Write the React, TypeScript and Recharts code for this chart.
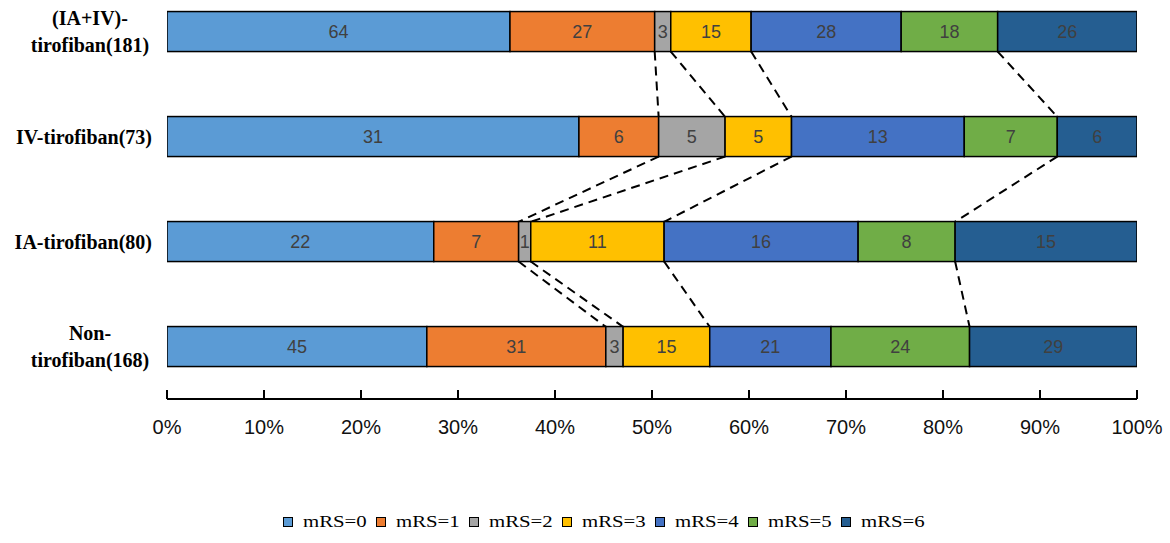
import React from "react";
import { BarChart, Bar, XAxis, YAxis, LabelList } from "recharts";

// groups, top to bottom ("\n" marks a wrapped label)
const categories = [
  "(IA+IV)-\ntirofiban(181)",
  "IV-tirofiban(73)",
  "IA-tirofiban(80)",
  "Non-\ntirofiban(168)",
];

const seriesNames = ["mRS=0", "mRS=1", "mRS=2", "mRS=3", "mRS=4", "mRS=5", "mRS=6"];
const seriesColors = ["#5B9BD5", "#ED7D31", "#A5A5A5", "#FFC000", "#4472C4", "#70AD47", "#255E91"];

// patient counts per group
const mrs0 = [64, 31, 22, 45];
const mrs1 = [27, 6, 7, 31];
const mrs2 = [3, 5, 1, 3];
const mrs3 = [15, 5, 11, 15];
const mrs4 = [28, 13, 16, 21];
const mrs5 = [18, 7, 8, 24];
const mrs6 = [26, 6, 15, 29];

const xTicks = [0, 0.1, 0.2, 0.3, 0.4, 0.5, 0.6, 0.7, 0.8, 0.9, 1];

// dashed links join the boundary after these mRS levels
const linkedAfter = [1, 2, 3, 5];

const seriesValues = [mrs0, mrs1, mrs2, mrs3, mrs4, mrs5, mrs6];
const keys = seriesNames.map((_, k) => `m${k}`);

const chartData = categories.map((name, i) => {
  const row: Record<string, string | number> = { name };
  seriesValues.forEach((vals, k) => {
    row[keys[k]] = vals[i];
  });
  return row;
});

const totals = categories.map((_, i) => seriesValues.reduce((s, v) => s + v[i], 0));
const share = (i: number, k: number) =>
  seriesValues.slice(0, k + 1).reduce((s, v) => s + v[i], 0) / totals[i];

const GAP = 0.31;

const serif = "'Liberation Serif', 'Times New Roman', serif";
const sans = "'Liberation Sans', Arial, sans-serif";

// segment rect, plus the dashed link from its right-bottom corner to the same boundary of the next bar
function segmentShape(k: number) {
  return (props: any) => {
    const { x, y, width, height, index, fill } = props;
    let link = null;
    if (linkedAfter.includes(k) && index < categories.length - 1) {
      const end = share(index, k);
      const start = end - seriesValues[k][index] / totals[index];
      const ppu = width / (end - start);
      const left = x - start * ppu;
      const step = height / (1 - 2 * GAP);
      link = (
        <line
          x1={x + width}
          y1={y + height}
          x2={left + share(index + 1, k) * ppu}
          y2={y + step}
          stroke="#000"
          strokeWidth={2}
          strokeDasharray="9 6"
        />
      );
    }
    return (
      <g>
        <rect x={x} y={y} width={width} height={height} fill={fill} stroke="#000" strokeWidth={1.5} />
        {link}
      </g>
    );
  };
}

function XTick(props: any) {
  const { x, y, payload } = props;
  return (
    <g>
      <line x1={x} x2={x} y1={y - 9} y2={y} stroke="#000" strokeWidth={2} />
      <text x={x} y={y + 35} textAnchor="middle" fontFamily={sans} fontSize={20} fill="#111">
        {`${Math.round(payload.value * 100)}%`}
      </text>
    </g>
  );
}

function YTick(props: any) {
  const { x, y, payload } = props;
  const lines = String(payload.value).split("\n");
  if (lines.length === 1) {
    return (
      <text x={x - 15} y={y + 7} textAnchor="end" fontFamily={serif} fontWeight="bold" fontSize={20} fill="#000">
        {lines[0]}
      </text>
    );
  }
  return (
    <text x={x - 77} y={y} textAnchor="middle" fontFamily={serif} fontWeight="bold" fontSize={20} fill="#000">
      <tspan x={x - 77} y={y - 6.5}>{lines[0]}</tspan>
      <tspan x={x - 77} y={y + 20.5}>{lines[1]}</tspan>
    </text>
  );
}

export default function App() {
  return (
    <div style={{ position: "absolute", left: 0, top: 0, width: 1170, height: 543, background: "#fff", overflow: "hidden" }}>
      <div style={{ position: "absolute", left: 0, top: -21 }}>
        <BarChart
          width={1170}
          height={564}
          data={chartData}
          layout="vertical"
          stackOffset="expand"
          barCategoryGap={`${GAP * 100}%`}
          margin={{ top: 0, right: 33, bottom: 104, left: 0 }}
        >
          <XAxis
            type="number"
            domain={[0, 1]}
            ticks={xTicks}
            interval={0}
            allowDataOverflow
            height={40}
            tickSize={0}
            tickMargin={0}
            tickLine={false}
            axisLine={{ stroke: "#000", strokeWidth: 2 }}
            tick={<XTick />}
          />
          <YAxis
            dataKey="name"
            type="category"
            width={167}
            interval={0}
            tickSize={0}
            tickMargin={0}
            tickLine={false}
            axisLine={false}
            tick={<YTick />}
          />
          {keys.map((key, k) => (
            <Bar
              key={key}
              dataKey={key}
              name={seriesNames[k]}
              stackId="a"
              fill={seriesColors[k]}
              shape={segmentShape(k)}
              isAnimationActive={false}
            >
              <LabelList dataKey={key} position="center" fill="#404040" fontSize={18} fontFamily={sans} />
            </Bar>
          ))}
        </BarChart>
      </div>
      <div style={{ position: "absolute", left: 283, top: 510, display: "flex" }}>
        {seriesNames.map((name, k) => (
          <div key={name} style={{ width: 93, display: "flex", alignItems: "center", height: 24 }}>
            <span
              style={{
                width: 8,
                height: 8,
                border: "1.5px solid #000",
                background: seriesColors[k],
                marginRight: 10,
                display: "inline-block",
              }}
            />
            <span
              style={{
                fontFamily: serif,
                fontSize: 16,
                color: "#000",
                display: "inline-block",
                transform: "scaleX(1.3)",
                transformOrigin: "left center",
                whiteSpace: "nowrap",
              }}
            >
              {name}
            </span>
          </div>
        ))}
      </div>
    </div>
  );
}
